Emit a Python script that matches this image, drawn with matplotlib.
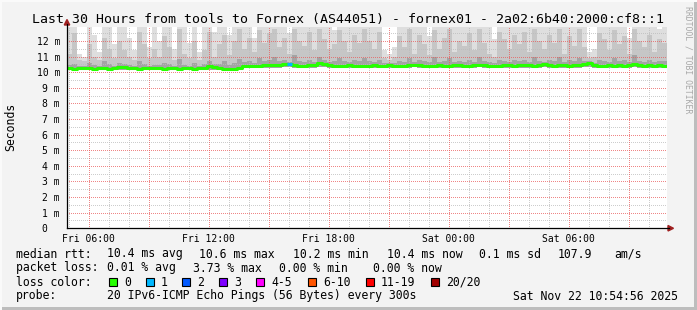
import numpy as np
import matplotlib
matplotlib.use("Agg")
import matplotlib.pyplot as plt
from matplotlib.patches import Polygon, Rectangle

W, H = 697, 310
MONO = "DejaVu Sans Mono"

# time axis: hours since Fri 00:00, one sample every 15 min
t_start = 4 + 55 / 60.0
t_step = 0.25

x_ticks = [6, 12, 18, 24, 30]
x_labels = ["Fri 06:00", "Fri 12:00", "Fri 18:00", "Sat 00:00", "Sat 06:00"]
y_ticks = [0, 1, 2, 3, 4, 5, 6, 7, 8, 9, 10, 11, 12]

median = [
    10.25, 10.24, 10.26, 10.25, 10.27, 10.24, 10.25, 10.26, 10.24, 10.25,
    10.36, 10.33, 10.27, 10.25, 10.24, 10.26, 10.25, 10.27, 10.25, 10.24,
    10.26, 10.25, 10.24, 10.28, 10.25, 10.24, 10.26, 10.30, 10.38, 10.32,
    10.25, 10.24, 10.22, 10.23, 10.25, 10.40, 10.41, 10.40, 10.42, 10.45,
    10.48, 10.44, 10.47, 10.50, 10.52, 10.46, 10.43, 10.42, 10.45, 10.48,
    10.62, 10.50, 10.44, 10.42, 10.43, 10.41, 10.44, 10.42, 10.43, 10.41,
    10.43, 10.46, 10.42, 10.40, 10.44, 10.43, 10.41, 10.42, 10.46, 10.49,
    10.44, 10.42, 10.40, 10.43, 10.45, 10.41, 10.42, 10.44, 10.47, 10.43,
    10.42, 10.45, 10.48, 10.44, 10.42, 10.41, 10.43, 10.46, 10.44, 10.42,
    10.44, 10.48, 10.46, 10.43, 10.47, 10.50, 10.45, 10.43, 10.46, 10.44,
    10.42, 10.45, 10.48, 10.52, 10.60, 10.46, 10.43, 10.42, 10.44, 10.43,
    10.45, 10.42, 10.46, 10.52, 10.47, 10.43, 10.44, 10.42, 10.45, 10.43,
]

# smoke: min ping, and tops of the dark / mid / light bands
smoke_min = [
    10.12, 10.13, 10.14, 10.12, 10.13, 10.12, 10.14, 10.13, 10.12, 10.13,
    10.15, 10.14, 10.13, 10.12, 10.13, 10.14, 10.12, 10.13, 10.14, 10.12,
    10.13, 10.12, 10.13, 10.14, 10.12, 10.13, 10.14, 10.13, 10.16, 10.15,
    10.13, 10.12, 10.11, 10.12, 10.13, 10.26, 10.27, 10.28, 10.27, 10.29,
    10.30, 10.28, 10.30, 10.31, 10.32, 10.29, 10.28, 10.27, 10.29, 10.30,
    10.34, 10.31, 10.28, 10.27, 10.28, 10.27, 10.29, 10.28, 10.27, 10.26,
    10.28, 10.29, 10.27, 10.26, 10.28, 10.27, 10.26, 10.27, 10.29, 10.31,
    10.28, 10.27, 10.26, 10.28, 10.29, 10.26, 10.27, 10.28, 10.30, 10.28,
    10.27, 10.29, 10.31, 10.28, 10.27, 10.26, 10.28, 10.29, 10.28, 10.27,
    10.28, 10.30, 10.29, 10.27, 10.29, 10.31, 10.28, 10.27, 10.29, 10.28,
    10.27, 10.29, 10.30, 10.32, 10.36, 10.29, 10.27, 10.26, 10.28, 10.27,
    10.29, 10.27, 10.29, 10.32, 10.29, 10.27, 10.28, 10.27, 10.29, 10.27,
]
smoke_dark = [
    10.45, 10.55, 10.40, 10.40, 10.60, 10.45, 10.40, 10.70, 10.50, 10.40,
    10.60, 10.55, 10.45, 10.40, 10.75, 10.50, 10.40, 10.45, 10.45, 10.60,
    10.50, 10.40, 10.85, 10.45, 10.40, 10.60, 10.40, 10.55, 10.70, 10.50,
    10.50, 10.70, 10.45, 10.60, 10.85, 10.65, 10.70, 10.60, 10.90, 10.70,
    10.80, 11.00, 10.70, 10.80, 10.65, 11.10, 10.70, 10.65, 10.80, 10.65,
    11.00, 10.80, 10.65, 10.70, 10.90, 10.70, 10.65, 10.80, 10.70, 10.90,
    10.70, 10.65, 10.80, 10.60, 10.60, 10.60, 10.70, 10.65, 10.90, 10.65,
    10.80, 10.70, 10.65, 11.00, 10.65, 10.70, 10.90, 10.65, 10.70, 10.65,
    10.80, 10.65, 11.00, 10.70, 10.65, 10.60, 10.80, 10.70, 10.65, 10.80,
    10.70, 10.80, 10.65, 11.00, 10.70, 10.65, 10.80, 10.70, 11.00, 10.65,
    10.80, 10.70, 10.90, 10.70, 10.75, 10.60, 10.80, 10.70, 10.65, 10.90,
    10.70, 10.80, 10.65, 11.10, 10.70, 10.65, 10.80, 10.65, 10.70, 10.70,
]
smoke_mid = [
    11.2, 12.5, 10.8, 10.7, 11.8, 11.0, 10.8, 12.2, 11.5, 10.9,
    12.0, 11.4, 11.0, 10.8, 12.6, 11.8, 10.9, 11.5, 11.0, 12.3,
    11.6, 10.8, 12.8, 11.2, 10.9, 12.0, 10.8, 11.4, 12.6, 11.0,
    11.8, 12.4, 11.1, 12.0, 12.8, 11.5, 12.2, 11.3, 12.7, 11.9,
    12.5, 12.8, 11.6, 12.2, 11.2, 12.8, 12.0, 11.7, 12.6, 11.4,
    12.8, 12.1, 11.5, 11.8, 12.7, 12.0, 11.3, 12.4, 11.9, 12.8,
    12.0, 11.5, 12.6, 10.9, 10.8, 11.0, 12.3, 11.6, 12.8, 11.2,
    12.4, 11.8, 11.1, 12.7, 11.5, 12.2, 12.8, 11.3, 12.0, 11.7,
    12.5, 11.4, 12.8, 11.9, 11.2, 11.0, 12.6, 12.1, 11.5, 12.4,
    11.8, 12.6, 11.3, 12.8, 12.0, 11.5, 12.4, 11.9, 12.8, 11.2,
    12.3, 11.7, 12.8, 11.6, 10.9, 11.0, 12.5, 12.1, 11.4, 12.7,
    11.8, 12.3, 11.2, 12.8, 12.0, 11.6, 12.4, 11.3, 12.1, 11.9,
]
smoke_max = [
    12.9, 12.9, 11.2, 11.0, 12.9, 12.4, 11.3, 12.9, 12.9, 11.8,
    12.9, 12.9, 12.2, 11.4, 12.9, 12.9, 11.6, 12.9, 12.0, 12.9,
    12.9, 11.5, 12.9, 12.9, 11.9, 12.9, 11.3, 12.9, 12.9, 12.6,
    12.9, 12.9, 12.4, 12.9, 12.9, 12.9, 12.9, 12.2, 12.9, 12.9,
    12.9, 12.9, 12.9, 12.9, 12.5, 12.9, 12.9, 12.9, 12.9, 12.9,
    12.9, 12.9, 12.9, 12.7, 12.9, 12.9, 12.9, 12.9, 12.9, 12.9,
    12.9, 12.9, 12.9, 11.4, 11.2, 11.6, 12.9, 12.9, 12.9, 12.9,
    12.9, 12.9, 12.3, 12.9, 12.9, 12.9, 12.9, 12.9, 12.9, 12.9,
    12.9, 12.9, 12.9, 12.9, 12.9, 12.1, 12.9, 12.9, 12.9, 12.9,
    12.9, 12.9, 12.9, 12.9, 12.9, 12.9, 12.9, 12.9, 12.9, 12.9,
    12.9, 12.9, 12.9, 12.9, 11.3, 11.5, 12.9, 12.9, 12.9, 12.9,
    12.9, 12.9, 12.2, 12.9, 12.9, 12.9, 12.9, 12.9, 12.8, 12.9,
]
loss_events = {44: 1}  # sample index -> lost pings

loss_labels = ["0", "1", "2", "3", "4-5", "6-10", "11-19", "20/20"]
loss_colors = ["#26ff00", "#00b8ff", "#0059ff", "#7e00ff", "#ff00fe",
               "#ff5500", "#ff0000", "#a10000"]

fig = plt.figure(figsize=(W / 100, H / 100), dpi=100)
fig.patch.set_facecolor("#f3f3f3")

ax = fig.add_axes([67 / W, (H - 228.3) / H, 600 / W, 201.3 / H])
ax.set_facecolor("white")
ax.set_xlim(t_start, t_start + 30)
ax.set_ylim(0, 12.9)

n = len(median)
t = t_start + t_step * np.arange(n + 1)
ext = lambda a: np.append(a, a[-1])

ax.fill_between(t, ext(smoke_min), ext(smoke_max), step="post", color="#dedede", lw=0, zorder=1)
ax.fill_between(t, ext(smoke_min), ext(smoke_mid), step="post", color="#c6c6c6", lw=0, zorder=1.1)
ax.fill_between(t, ext(smoke_min), ext(smoke_dark), step="post", color="#a4a4a4", lw=0, zorder=1.2)

# dotted grid, one dot every 2 px, drawn over the smoke like rrdtool
px_x = 30.0 / 600   # hours per pixel
px_y = 12.9 / 201.3  # ms per pixel
gx = t_start + np.arange(0, 600, 2) * px_x
gy = np.arange(0, 201, 2) * px_y


def hgrid(v, color, z):
    ax.plot(gx, np.full(gx.size, v), ls="none", marker="s", ms=0.5, mew=0,
            color=color, zorder=z)


def vgrid(h, color, z):
    ax.plot(np.full(gy.size, h), gy, ls="none", marker="s", ms=0.5, mew=0,
            color=color, zorder=z)


for h in range(5, 35):
    if h % 3:
        vgrid(h, "#bcbcbc", 2)
for v in np.arange(0.5, 13, 1.0):
    hgrid(v, "#bcbcbc", 2)
for h in range(6, 35, 3):
    vgrid(h, "#ea5a5a", 2.1)
for v in range(1, 13):
    hgrid(v, "#ea5a5a", 2.1)

ax.step(t, ext(median), where="post", color=loss_colors[0], lw=2.2, zorder=3)
for i, lost in loss_events.items():
    ax.plot([t[i], t[i + 1]], [median[i], median[i]], color=loss_colors[lost],
            lw=2.2, solid_capstyle="butt", zorder=3.1)

for s in ax.spines.values():
    s.set_visible(False)
ax.set_xticks(x_ticks)
ax.set_xticklabels(x_labels, family=MONO, fontsize=7)
ax.set_yticks(y_ticks)
ax.set_yticklabels([f"{v} m" if v else "0  " for v in y_ticks], family=MONO, fontsize=7)
ax.tick_params(length=0)
ax.tick_params(axis="x", pad=4)
ax.tick_params(axis="y", pad=5)

# overlay in pixel coordinates for axes lines, arrows, texts
ov = fig.add_axes([0, 0, 1, 1])
ov.set_xlim(0, W)
ov.set_ylim(H, 0)
ov.axis("off")
ov.patch.set_alpha(0)

ov.plot([67, 669], [228.3, 228.3], color="black", lw=0.9)
ov.plot([67, 67], [228.3, 24], color="black", lw=0.9)
ov.add_patch(Polygon([[668, 225.5], [668, 231], [673.5, 228.3]], color="#a02020"))
ov.add_patch(Polygon([[64.3, 25], [69.7, 25], [67, 19.5]], color="#a02020"))

# frame of the image
ov.add_patch(Rectangle((W - 3, 0), 3, H, color="#bdbdbd", lw=0))
ov.add_patch(Rectangle((0, H - 3), W, 3, color="#bdbdbd", lw=0))
ov.add_patch(Rectangle((0, 0), W, 1.5, color="#fafafa", lw=0))
ov.add_patch(Rectangle((0, 0), 1.5, H, color="#fafafa", lw=0))

ov.text(W / 2, 19, "Last 30 Hours from tools to Fornex (AS44051) - fornex01 - 2a02:6b40:2000:cf8::1",
        family=MONO, fontsize=9.5, ha="center", va="center")
ov.text(11, 127, "Seconds", family=MONO, fontsize=8.3, rotation=90, ha="center", va="center")
ov.text(688, 60, "RRDTOOL / TOBI OETIKER", family=MONO, fontsize=5.9, rotation=-90,
        ha="center", va="center", color="#a8a8a8")

fs = 8.3
rows = [
    (254, [(16, "median rtt:"), (107, "10.4 ms avg"), (199, "10.6 ms max"),
           (293, "10.2 ms min"), (387, "10.4 ms now"), (479, "0.1 ms sd"),
           (558, "107.9"), (614, "am/s")]),
    (268, [(16, "packet loss:"), (107, "0.01 % avg"), (193, "3.73 % max"),
           (279, "0.00 % min"), (373, "0.00 % now")]),
    (282, [(16, "loss color:")]),
    (296, [(16, "probe:"), (107, "20 IPv6-ICMP Echo Pings (56 Bytes) every 300s"),
           (513, "Sat Nov 22 10:54:56 2025")]),
]
for y, items in rows:
    for x, s in items:
        ov.text(x, y, s, family=MONO, fontsize=fs, ha="left", va="center")

box_x = [109, 146, 182, 219, 256, 308, 366, 431]
for bx, lab, col in zip(box_x, loss_labels, loss_colors):
    ov.add_patch(Rectangle((bx, 278), 7.5, 7.5, facecolor=col, edgecolor="black", lw=0.8))
    ov.text(bx + 15, 282, lab, family=MONO, fontsize=fs, ha="left", va="center")

fig.savefig("out.png", dpi=100, facecolor=fig.get_facecolor())
